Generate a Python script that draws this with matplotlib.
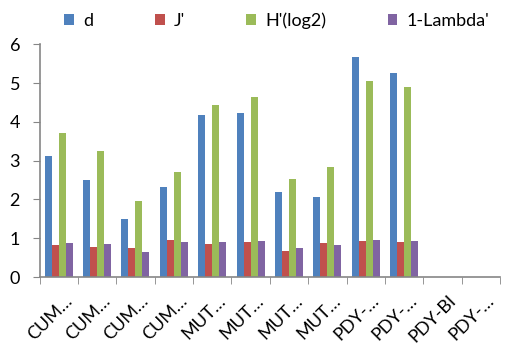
import numpy as np
import matplotlib
matplotlib.use("Agg")
import matplotlib.pyplot as plt
import matplotlib.transforms as mtransforms

plt.rcParams['font.family'] = ['Lato', 'DejaVu Sans']

categories = ["CUM\u2026", "CUM\u2026", "CUM\u2026", "CUM\u2026",
              "MUT\u2026", "MUT\u2026", "MUT\u2026", "MUT\u2026",
              "PDY-\u2026", "PDY-\u2026", "PDY-BI", "PDY-\u2026"]
d_vals = [3.12, 2.50, 1.49, 2.32, 4.18, 4.23, 2.19, 2.06, 5.67, 5.26, 0, 0]
j_vals = [0.82, 0.77, 0.75, 0.95, 0.85, 0.90, 0.68, 0.87, 0.93, 0.90, 0, 0]
h_vals = [3.71, 3.25, 1.96, 2.71, 4.43, 4.64, 2.53, 2.84, 5.05, 4.90, 0, 0]
l_vals = [0.87, 0.85, 0.64, 0.90, 0.90, 0.93, 0.75, 0.82, 0.96, 0.93, 0, 0]
series_names = ["d", "J'", "H'(log2)", "1-Lambda'"]
colors = ["#4F81BD", "#C0504D", "#9BBB59", "#8064A2"]

fig = plt.figure(figsize=(5.05, 3.55), dpi=100)
ax = fig.add_axes([39.5 / 505, 1 - 277 / 355, (500 - 39.5) / 505, (277 - 44.3) / 355])

x = np.arange(len(categories))
w = 0.182
for i, vals in enumerate([d_vals, j_vals, h_vals, l_vals]):
    ax.bar(x + (i - 1.5) * w, vals, w, color=colors[i], label=series_names[i])

ax.set_xlim(-0.5, len(categories) - 0.5)
ax.set_ylim(0, 6)
ax.set_yticks(range(7))
ax.set_xticks(x)
ax.set_xticklabels(categories, rotation=45, ha='right', rotation_mode='anchor')
ax.set_xticks(np.arange(-0.5, len(categories)), minor=True)
ax.tick_params(axis='x', which='major', length=0, pad=11, labelsize=13)
ax.tick_params(axis='x', which='minor', length=5, color='#868686')
ax.tick_params(axis='y', length=5, color='#868686', pad=9, labelsize=13)

# shift rotated labels a bit right, like the original
offset = mtransforms.ScaledTranslation(5 / 100, 0, fig.dpi_scale_trans)
for lbl in ax.get_xticklabels():
    lbl.set_transform(lbl.get_transform() + offset)

for s in ['top', 'right']:
    ax.spines[s].set_visible(False)
for s in ['left', 'bottom']:
    ax.spines[s].set_color('#868686')
    ax.spines[s].set_linewidth(1.2)

fig.legend(loc='upper center', bbox_to_anchor=(0.548, 1.01), ncol=4, frameon=False,
           fontsize=13, handlelength=0.55, handleheight=0.55, handletextpad=0.5,
           columnspacing=3.4)

fig.savefig("out.png", dpi=100)
